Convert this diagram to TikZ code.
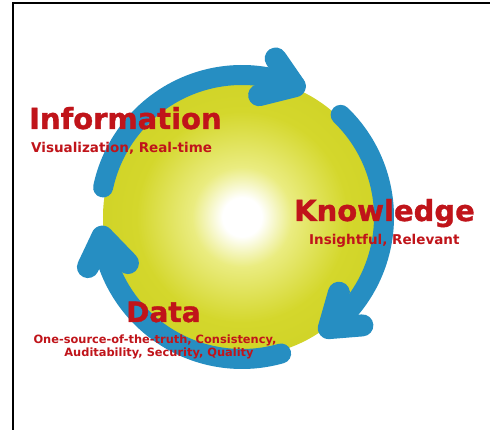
\documentclass[tikz,border=0pt]{standalone}
\usepackage{fontspec}
\setmainfont{DejaVu Sans}
\newfontfamily\heavyfont{DejaVu Sans}[BoldFeatures={FakeBold=1.2}]
\definecolor{ringblue}{RGB}{38,142,194}
\definecolor{labelred}{RGB}{192,20,26}
\definecolor{glowmid}{RGB}{234,236,128}
\definecolor{discmid}{RGB}{212,215,44}
\definecolor{discedge}{RGB}{194,198,22}
\pgfdeclareradialshading{discglow}{\pgfpoint{0bp}{0bp}}{%
  color(0bp)=(white); color(3.5bp)=(white); color(9bp)=(glowmid);
  color(19bp)=(discmid); color(50bp)=(discedge)}
\tikzset{
  ringline/.style={draw=ringblue, line width=20pt, line cap=round, line join=round},
  barbline/.style={draw=ringblue, line width=22pt, line cap=round, line join=round},
  headline/.style={text=labelred, font=\heavyfont\bfseries\fontsize{29}{32}\selectfont, inner sep=0pt},
  subline/.style={text=labelred, font=\bfseries\fontsize{13.5}{15}\selectfont, inner sep=0pt},
  dataline/.style={text=labelred, font=\bfseries\fontsize{11.4}{12.5}\selectfont, inner sep=0pt}
}
\begin{document}
\begin{tikzpicture}[x=1pt,y=1pt]
  \useasboundingbox (-242,-213) rectangle (248,217);
  \fill[white] (-242,-213) rectangle (248,217);
  % frame edges
  \draw[line width=2.2pt] (-229,-220) -- (-229,214) -- (260,214);

  % shaded disc
  \shade[shading=discglow] (0,0) circle[radius=139];

  % ring points: arc starts, arrow tips and barb ends
  \coordinate (startA) at (168:142);
  \coordinate (tipA) at (68:141);
  \coordinate (outA) at (78:162);
  \coordinate (inA) at (82:123);
  \coordinate (startB) at (46:142);
  \coordinate (tipB) at (-52:141);
  \coordinate (outB) at (-42:162);
  \coordinate (inB) at (-38:123);
  \coordinate (startC) at (-74:142);
  \coordinate (tipC) at (-172:141);
  \coordinate (outC) at (-162:162);
  \coordinate (inC) at (-158:123);

  % cycle arcs with rounded arrowheads
  \draw[ringline] (startA) arc[start angle=168, end angle=68, radius=142];
  \draw[barbline] (outA) -- (tipA) -- (inA);
  \draw[ringline] (startB) arc[start angle=46, end angle=-52, radius=142];
  \draw[barbline] (outB) -- (tipB) -- (inB);
  \draw[ringline] (startC) arc[start angle=-74, end angle=-172, radius=142];
  \draw[barbline] (outC) -- (tipC) -- (inC);

  % labels
  \node[headline, anchor=base west] (info) at (-213,88) {Information};
  \node[subline, anchor=base west] (infosub) at (-211,64) {Visualization, Real-time};
  \node[headline, anchor=base west] (know) at (52,-4) {Knowledge};
  \node[subline, anchor=base west] (knowsub) at (67,-28) {Insightful, Relevant};
  \node[headline, anchor=base west, font=\heavyfont\bfseries\fontsize{28}{30}\selectfont] (data) at (-116,-105) {Data};
  \node[dataline, anchor=base] (datasub1) at (-87,-127) {One-source-of-the-truth, Consistency,};
  \node[dataline, anchor=base] (datasub2) at (-83,-140) {Auditability, Security, Quality};
\end{tikzpicture}
\end{document}
